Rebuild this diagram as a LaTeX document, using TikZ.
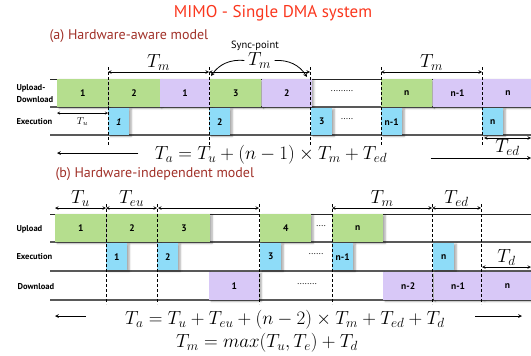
\documentclass[tikz,border=0pt]{standalone}
\usepackage{fix-cm}
\usepackage{amsmath}
\usepackage{fontspec}
\newfontfamily\labelfont{PT Sans}
\usepackage{tikz}
\usetikzlibrary{arrows,shapes,positioning}
\usetikzlibrary{shadows,shadows.blur}

\definecolor{titlered}{RGB}{250,55,30}
\definecolor{partred}{RGB}{160,48,40}
\definecolor{upcol}{RGB}{181,222,142}
\definecolor{downcol}{RGB}{216,200,247}
\definecolor{excol}{RGB}{142,220,248}

\begin{document}
\begin{tikzpicture}[x=1pt,y=-1pt,>=stealth,
	box/.style={inner sep=0pt,minimum height=28pt,anchor=north west,font=\labelfont\fontsize{9.5}{11}\selectfont\bfseries,
		blur shadow={shadow xshift=2pt,shadow yshift=-1pt,shadow blur radius=2pt,shadow blur steps=6,shadow opacity=35}},
	up/.style={box,fill=upcol,minimum width=51pt},
	down/.style={box,fill=downcol,minimum width=50pt},
	ex/.style={box,fill=excol,minimum width=21pt,minimum height=27pt},
	rowlabel/.style={anchor=west,align=left,font=\labelfont\fontsize{8.5}{12}\selectfont\bfseries},
	part/.style={anchor=west,text=partred,font=\labelfont\fontsize{14}{16}\selectfont},
	gap/.style={font=\labelfont\fontsize{9}{10}\selectfont},
	rowline/.style={draw=black!65,line width=1.3pt},
	topline/.style={draw=black!85,line width=1pt},
	syncline/.style={densely dashed,line width=1pt},
	dim/.style={<->,line width=0.6pt},
	big/.style={font=\fontsize{19}{22}\selectfont}]
	\useasboundingbox (0,0) rectangle (531,356);

	\node[text=titlered,font=\labelfont\fontsize{17}{20}\selectfont] (title) at (273,13) {MIMO - Single DMA system};

	% (a) one DMA engine for upload and download
	\node[part] (parta) at (46,36) {(a) Hardware-aware model};
	\draw[topline] (50,79) -- (531,79);
	\draw[rowline] (50,107) -- (531,107);
	\draw[rowline] (50,135) -- (531,135);
	\node[rowlabel] (lupdown) at (13,94) {Upload-\\Download};
	\node[rowlabel] (lexeca) at (13,122) {Execution};

	\node[up] (ua1) at (57,79) {1};
	\node[up,right=0pt of ua1] (ua2) {2};
	\node[down,right=0pt of ua2] (da1) {1};
	\node[up,right=0pt of da1] (ua3) {3};
	\node[down,right=0pt of ua3] (da2) {2};
	\node[gap] (gapa) at (342,91) {.........};
	\node[up] (uan) at (381,79) {n};
	\node[down,right=0pt of uan] (dan1) {n-1};
	\node[down,right=0pt of dan1] (dan) {n};

	\node[ex] (ea1) at (108,108) {\itshape 1};
	\node[ex] (ea2) at (209,108) {2};
	\node[ex] (ea3) at (311,108) {3};
	\node[gap] (gapea) at (347,119) {.....};
	\node[ex] (ean1) at (381,108) {n-1};
	\node[ex] (ean) at (482,108) {n};

	\foreach \x/\n in {108/1,209/2,310/3,381/4,482/5} {
		\coordinate (ma\n) at (\x,72);
		\draw[syncline] (\x,67) -- (\x,145);
	}
	\draw[dim] (ma1) -- node[above=-2pt,big] {$T_m$} (ma2);
	\draw[dim] (ma2) -- node[above=0pt,big] (tmsync) {$T_m$} (ma3);
	\draw[dim] (ma4) -- node[above=-2pt,big] {$T_m$} (ma5);
	\node[font=\labelfont\fontsize{10.5}{12}\selectfont] (sync) at (255,46) {Sync-point};
	\draw[->,line width=0.8pt] (tmsync.west) to[bend right=30] ([xshift=2pt,yshift=-4pt]ma2);
	\draw[->,line width=0.8pt] (tmsync.east) to[bend left=30] ([xshift=-3pt,yshift=-5pt]ma3);

	\coordinate (tu0) at (57,113);
	\coordinate (tu1) at (108,113);
	\draw[dim,line width=0.4pt] (tu0) -- node[below=1pt,font=\fontsize{10}{12}\selectfont] {$T_u$} (tu1);
	\coordinate (ted0) at (484,138);
	\coordinate (ted1) at (531,138);
	\draw[dim] (ted0) -- node[below=-2pt,big] {$T_{ed}$} (ted1);

	\node[big] (fa) at (271,155) {$T_a = T_u + (n-1) \times T_m + T_{ed}$};
	\coordinate (la) at (57,153);
	\coordinate (ra) at (531,158);
	\draw[->,line width=0.7pt,shorten <=13pt] (fa.west |- la) -- (la);
	\draw[->,line width=0.7pt,shorten <=40pt] (fa.east |- ra) -- (ra);

	% (b) separate upload, execution and download
	\node[part] (partb) at (52,174) {(b) Hardware-independent model};
	\draw[topline] (50,214) -- (531,214);
	\draw[rowline] (50,242) -- (531,242);
	\draw[rowline] (50,271) -- (531,271);
	\draw[rowline] (50,300) -- (531,300);
	\node[rowlabel] (lup) at (13,229) {Upload};
	\node[rowlabel] (lexecb) at (13,257) {Execution};
	\node[rowlabel] (ldown) at (14,287) {Download};

	\node[up] (ub1) at (55,214) {1};
	\node[up,right=0pt of ub1] (ub2) {2};
	\node[up,right=0pt of ub2,minimum width=52pt] (ub3) {3};
	\node[up] (ub4) at (260,214) {4};
	\node[gap] (gapub) at (321,226) {....};
	\node[up] (ubn) at (332,214) {n};

	\node[ex] (eb1) at (106,243) {1};
	\node[ex] (eb2) at (157,243) {2};
	\node[ex] (eb3) at (260,243) {3};
	\node[gap] (gapeb) at (316,254) {......};
	\node[ex] (ebn1) at (332,243) {n-1};
	\node[ex] (ebn) at (433,243) {n};

	\node[down] (db1) at (209,272) {1};
	\node[gap] (gapdb) at (307,284) {........};
	\node[down] (dbn2) at (383,272) {n-2};
	\node[down,right=0pt of dbn2,minimum width=49pt] (dbn1) {n-1};
	\node[down,right=0pt of dbn1,minimum width=49pt] (dbn) {n};

	\coordinate (mb0) at (55,208);
	\foreach \x/\n in {106/1,157/2,259/3,332/4,432/5,481/6} {
		\coordinate (mb\n) at (\x,208);
		\draw[syncline] (\x,204) -- (\x,304);
	}
	\draw[dim] (mb0) -- node[above=-2pt,big] {$T_u$} (mb1);
	\draw[dim] (mb1) -- node[above=-2pt,big] {$T_{eu}$} (mb2);
	\draw[dim] ([xshift=1pt]mb2) -- (mb3);
	\draw[dim] (mb4) -- node[above=-2pt,big] {$T_m$} (mb5);
	\draw[dim] (mb5) -- node[above=-2pt,big] {$T_{ed}$} (mb6);
	\coordinate (td0) at (482,267);
	\coordinate (td1) at (531,267);
	\draw[dim] (td0) -- node[above=-2pt,big] {$T_d$} (td1);

	\node[big] (fb) at (285,320) {$T_a = T_u + T_{eu} + (n-2) \times T_m + T_{ed} + T_d$};
	\node[big] (fm) at (267,343) {$T_m = max(T_u, T_e) + T_d$};
	\coordinate (lb) at (55,316);
	\coordinate (rb) at (522,316);
	\draw[->,line width=0.7pt,shorten <=36pt] (fb.west |- lb) -- (lb);
	\draw[->,line width=0.7pt,shorten <=27pt] (fb.east |- rb) -- (rb);
\end{tikzpicture}
\end{document}
